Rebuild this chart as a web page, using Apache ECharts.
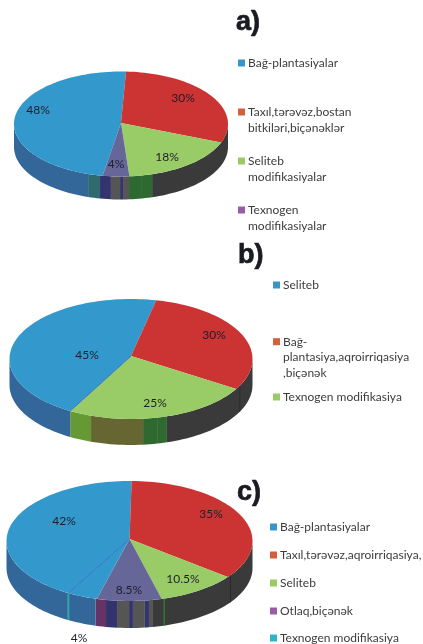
<!DOCTYPE html>
<html>
<head>
<meta charset="utf-8">
<style>
  html, body { margin: 0; padding: 0; background: #fff; }
  /* the source is a soft, upscaled scan */
  #chart { width: 423px; height: 644px; filter: blur(0.4px); }
</style>
<script src="https://cdn.jsdelivr.net/npm/echarts@6/dist/echarts.min.js"></script>
</head>
<body>
<div id="chart"></div>
<script>
// values are listed in legend order, slices run clockwise from startAngle
var namesA = ['Bağ-plantasiyalar', 'Taxıl,tərəvəz,bostan\nbitkiləri,biçənəklər', 'Seliteb\nmodifikasiyalar', 'Texnogen\nmodifikasiyalar'];
var valuesA = [48, 30, 18, 4];
var namesB = ['Seliteb', 'Bağ-\nplantasiya,aqroirriqasiya\n,biçənək', 'Texnogen modifikasiya'];
var valuesB = [45, 30, 25];
var namesC = ['Bağ-plantasiyalar', 'Taxıl,tərəvəz,aqroirriqasiya,', 'Seliteb', 'Otlaq,biçənək', 'Texnogen modifikasiya'];
var valuesC = [42, 35, 10.5, 8.5, 4];

var BLUE = '#3399cc', RED = '#cc3333', GREEN = '#99cc66', PURPLE = '#666699';
var WALL_BLUE = '#336699', WALL_DARK = '#3a3a3a', WALL_NAVY = '#33336e', WALL_GREY = '#555555', WALL_GREEN = '#2e6a30';
var LEGEND_COLORS = {
  blue: '#3a94c8', red: '#d2603a', green: '#9bca60', purple: '#9a5ca8', teal: '#2fb4c8'
};

var pies = [
  {
    title: 'a)', titleX: 236, titleY: 23,
    names: namesA, values: valuesA,
    cx: 121, cy: 124, rx: 107, ry: 52.5, apexDy: -1, depth: 23, startAngle: 189.9,
    colors: [BLUE, RED, GREEN, PURPLE],
    // side wall bands: from angle, to angle (clockwise from top), colour
    wall: [
      [90, 163.1, WALL_DARK], [163.1, 168.7, WALL_GREEN], [168.7, 175.7, WALL_GREEN],
      [175.7, 178.9, WALL_GREY], [178.9, 180.5, WALL_NAVY], [180.5, 185.4, WALL_GREY],
      [185.4, 191.3, WALL_NAVY], [191.3, 197.9, '#2f6b6e'], [197.9, 270, WALL_BLUE]
    ],
    edges: [],
    labelPos: [[38, 110], [183, 98], [167, 157], [116, 164]],
    legendColors: [LEGEND_COLORS.blue, LEGEND_COLORS.red, LEGEND_COLORS.green, LEGEND_COLORS.purple],
    legendX: 238, legendY: [63, 112, 161, 210], lineHeight: 15.7
  },
  {
    title: 'b)', titleX: 238, titleY: 256,
    names: namesB, values: valuesB,
    cx: 131, cy: 359, rx: 121.5, ry: 60, apexDy: -3, depth: 26, startAngle: 210,
    colors: [BLUE, RED, GREEN],
    wall: [
      [90, 162.8, WALL_DARK], [116, 116.7, '#262626'], [162.8, 167.6, WALL_GREEN], [167.6, 174.3, WALL_GREEN],
      [174.3, 199.2, '#666633'], [199.2, 210, '#669933'], [210, 270, WALL_BLUE]
    ],
    edges: [210],
    labelPos: [[87, 355], [214, 335], [155, 403]],
    legendColors: [LEGEND_COLORS.blue, LEGEND_COLORS.red, LEGEND_COLORS.green],
    legendX: 273, legendY: [285, 341.7, 397], lineHeight: 15.7
  },
  {
    title: 'c)', titleX: 237, titleY: 493,
    names: namesC, values: valuesC,
    cx: 129.5, cy: 541, rx: 123, ry: 60, apexDy: -2, depth: 27, startAngle: 209.8,
    colors: [BLUE, RED, GREEN, PURPLE, BLUE],
    wall: [
      [90, 169, WALL_DARK], [124.5, 125.2, '#262626'], [163.2, 163.9, '#2e7a30'],
      [169, 170.9, WALL_GREY], [170.9, 172.8, WALL_NAVY], [172.8, 178.4, WALL_GREY], [178.4, 180.2, WALL_NAVY],
      [180.2, 185.8, WALL_GREY], [185.8, 191, WALL_NAVY], [191, 196, '#663366'],
      [196, 270, WALL_BLUE], [209.3, 210.3, '#33aaaa']
    ],
    edges: [209.8],
    labelPos: [[64, 521], [211, 514], [183, 579], [129, 590], [79, 638]],
    legendColors: [LEGEND_COLORS.blue, LEGEND_COLORS.red, LEGEND_COLORS.green, LEGEND_COLORS.purple, LEGEND_COLORS.teal],
    legendX: 270, legendY: [527, 555, 583, 611, 638], lineHeight: 15.7
  }
];

function rimPoint(pie, angle, dy) {
  var r = angle * Math.PI / 180;
  return [pie.cx + pie.rx * Math.sin(r), pie.cy - pie.ry * Math.cos(r) + (dy || 0)];
}

function arcPoints(pie, from, to, dy) {
  var pts = [];
  var steps = Math.max(2, Math.ceil(Math.abs(to - from) / 2));
  for (var i = 0; i <= steps; i++) {
    pts.push(rimPoint(pie, from + (to - from) * i / steps, dy));
  }
  return pts;
}

// slice i -> [from, to] in degrees
function sliceAngles(pie, i) {
  var total = pie.values.reduce(function (a, b) { return a + b; }, 0);
  var before = pie.values.slice(0, i).reduce(function (a, b) { return a + b; }, 0);
  return [pie.startAngle + before / total * 360, pie.startAngle + (before + pie.values[i]) / total * 360];
}

function wallSeries(pie) {
  return {
    type: 'custom',
    coordinateSystem: 'none',
    silent: true,
    z: 1,
    data: pie.wall.map(function (b, i) { return i; }),
    renderItem: function (params) {
      var band = pie.wall[params.dataIndex];
      var top = arcPoints(pie, band[0], band[1], 0);
      var bottom = arcPoints(pie, band[1], band[0], pie.depth);
      return {
        type: 'polygon',
        shape: { points: top.concat(bottom) },
        style: { fill: band[2] }
      };
    }
  };
}

function topSeries(pie) {
  return {
    type: 'custom',
    coordinateSystem: 'none',
    silent: true,
    z: 2,
    data: pie.values,
    renderItem: function (params) {
      var a = sliceAngles(pie, params.dataIndex);
      var apex = [pie.cx, pie.cy + pie.apexDy];
      return {
        type: 'polygon',
        shape: { points: [apex].concat(arcPoints(pie, a[0], a[1], 0)) },
        style: { fill: pie.colors[params.dataIndex] }
      };
    }
  };
}

function edgeSeries(pie) {
  return {
    type: 'custom',
    coordinateSystem: 'none',
    silent: true,
    z: 3,
    data: pie.edges,
    renderItem: function (params) {
      var end = rimPoint(pie, pie.edges[params.dataIndex], 0);
      return {
        type: 'line',
        shape: { x1: pie.cx, y1: pie.cy + pie.apexDy, x2: end[0], y2: end[1] },
        style: { stroke: '#3a6fc8', lineWidth: 1 }
      };
    }
  };
}

function labelSeries(pie) {
  return {
    type: 'custom',
    coordinateSystem: 'none',
    silent: true,
    z: 4,
    data: pie.values,
    renderItem: function (params) {
      var pos = pie.labelPos[params.dataIndex];
      return {
        type: 'text',
        x: pos[0],
        y: pos[1],
        style: {
          text: pie.values[params.dataIndex] + '%',
          fill: '#1e1e2c',
          font: '12px Lato',
          align: 'center',
          verticalAlign: 'middle'
        }
      };
    }
  };
}

var series = [];
var graphics = [];
pies.forEach(function (pie) {
  series.push(wallSeries(pie), topSeries(pie), edgeSeries(pie), labelSeries(pie));
  graphics.push({
    type: 'text',
    x: pie.titleX,
    y: pie.titleY,
    style: {
      text: pie.title,
      fill: '#1a1a22',
      stroke: '#1a1a22',
      lineWidth: 0.7,
      font: 'bold 27px "Liberation Sans"',
      verticalAlign: 'middle'
    }
  });
  pie.names.forEach(function (name, i) {
    graphics.push({
      type: 'rect',
      shape: { x: pie.legendX, y: pie.legendY[i] - 3.5, width: 7, height: 7 },
      style: { fill: pie.legendColors[i] }
    });
    graphics.push({
      type: 'text',
      x: pie.legendX + 10,
      y: pie.legendY[i] - pie.lineHeight / 2,
      style: {
        text: name,
        fill: '#3c3c3c',
        font: '12px Lato',
        lineHeight: pie.lineHeight,
        verticalAlign: 'top'
      }
    });
  });
});

var myChart = echarts.init(document.getElementById('chart'));
myChart.setOption({
  backgroundColor: '#fff',
  animation: false,
  graphic: graphics,
  series: series
});
</script>
</body>
</html>
